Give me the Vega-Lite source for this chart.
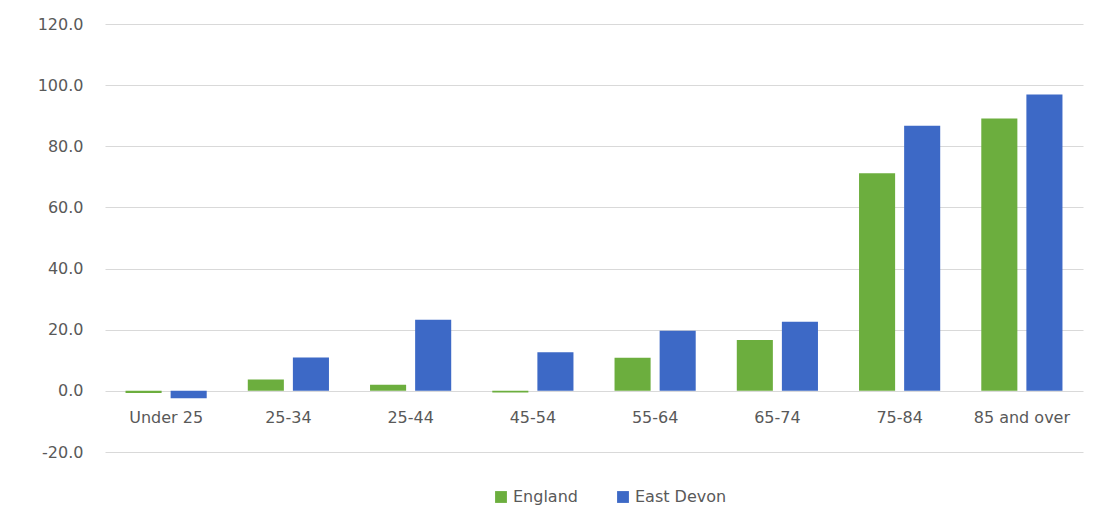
{
  "$schema": "https://vega.github.io/schema/vega-lite/v6.json",
  "width": 978,
  "height": 428,
  "autosize": "none",
  "padding": {"left": 105, "top": 24, "right": 23, "bottom": 55},
  "background": "white",
  "data": {"values": [
    {"age": "Under 25", "area": "England", "value": -0.7},
    {"age": "Under 25", "area": "East Devon", "value": -2.4},
    {"age": "25-34", "area": "England", "value": 3.7},
    {"age": "25-34", "area": "East Devon", "value": 10.9},
    {"age": "25-44", "area": "England", "value": 2.0},
    {"age": "25-44", "area": "East Devon", "value": 23.3},
    {"age": "45-54", "area": "England", "value": -0.5},
    {"age": "45-54", "area": "East Devon", "value": 12.6},
    {"age": "55-64", "area": "England", "value": 10.8},
    {"age": "55-64", "area": "East Devon", "value": 19.7},
    {"age": "65-74", "area": "England", "value": 16.6},
    {"age": "65-74", "area": "East Devon", "value": 22.6},
    {"age": "75-84", "area": "England", "value": 71.2},
    {"age": "75-84", "area": "East Devon", "value": 86.7},
    {"age": "85 and over", "area": "England", "value": 89.1},
    {"age": "85 and over", "area": "East Devon", "value": 96.9}
  ]},
  "mark": {"type": "bar"},
  "encoding": {
    "x": {
      "field": "age", "type": "nominal", "sort": null, "title": null,
      "scale": {"paddingInner": 0.336, "paddingOuter": 0.168},
      "axis": {"labelAngle": 0, "domain": false, "ticks": false, "offset": -62, "labelPadding": 19,
               "labelFont": "DejaVu Sans", "labelFontSize": 16, "labelColor": "#595959"}
    },
    "xOffset": {"field": "area", "type": "nominal", "sort": ["England", "East Devon"],
      "scale": {"paddingInner": 0.2, "paddingOuter": 0}},
    "y": {
      "field": "value", "type": "quantitative", "title": null,
      "scale": {"domain": [-20, 120], "nice": false},
      "axis": {"values": [-20, 0, 20, 40, 60, 80, 100, 120], "format": ".1f",
               "labelExpr": "replace(datum.label, '\u2212', '-')",
               "domain": false, "ticks": false,
               "labelPadding": 22, "labelFont": "DejaVu Sans", "labelFontSize": 16, "labelColor": "#595959",
               "gridColor": "#d9d9d9", "gridWidth": 1}
    },
    "color": {
      "field": "area", "type": "nominal", "sort": ["England", "East Devon"], "title": null,
      "scale": {"domain": ["England", "East Devon"], "range": ["#6cae3e", "#3d69c6"]},
      "legend": {"orient": "none", "direction": "horizontal", "legendX": 388, "legendY": 465,
                 "symbolType": "square", "symbolSize": 140, "symbolStrokeWidth": 0,
                 "labelFont": "DejaVu Sans", "labelFontSize": 16, "labelColor": "#595959",
                 "labelOffset": 4, "columnPadding": 37}
    }
  },
  "config": {"view": {"stroke": null}}
}
